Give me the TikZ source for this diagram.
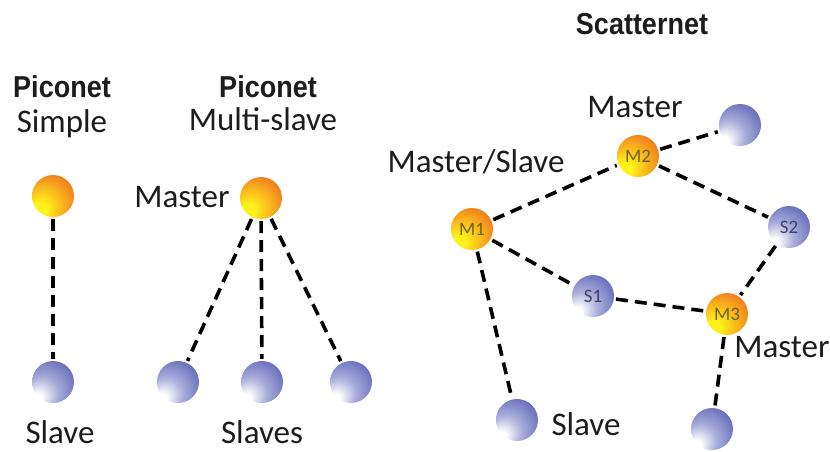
\documentclass[tikz,border=0pt]{standalone}
\usepackage{graphicx}
\usepackage{fontspec}
\setmainfont{Carlito}
\newfontfamily\titlefont{Liberation Sans}

% ball colours
\definecolor{mYellow}{HTML}{FFF21A}
\definecolor{mOrange}{HTML}{F59A1E}
\definecolor{mRed}{HTML}{E4481C}
\definecolor{mText}{HTML}{6E6420}
\definecolor{sWhite}{HTML}{FFFFFF}
\definecolor{sLight}{HTML}{A9ADDA}
\definecolor{sBlue}{HTML}{6268B8}
\definecolor{sDark}{HTML}{474C98}
\definecolor{sText}{HTML}{3E4268}
\definecolor{labelInk}{HTML}{1C1C1C}

% off-centre radial shadings: light at lower left, deep at upper right
\pgfdeclareradialshading{masterball}{\pgfpoint{-18bp}{-18bp}}{%
  color(0bp)=(mYellow); color(8bp)=(mYellow); color(30bp)=(mOrange);
  color(50bp)=(mRed); color(70bp)=(mRed)}
\pgfdeclareradialshading{slaveball}{\pgfpoint{-20bp}{-20bp}}{%
  color(0bp)=(sWhite); color(5bp)=(sWhite); color(20bp)=(sLight);
  color(40bp)=(sBlue); color(56bp)=(sDark); color(70bp)=(sDark)}

% tall bold heading text
\newcommand{\headtext}[1]{\scalebox{1}[1.12]{#1}}

\begin{document}
\begin{tikzpicture}[x=1pt,y=-1pt,
  ball/.style={circle,minimum size=42pt,inner sep=0pt,
    font=\fontsize{19}{19}\selectfont},
  master/.style={ball,shading=masterball,text=mText},
  slave/.style={ball,shading=slaveball,text=sText},
  link/.style={line width=3.6pt,dash pattern=on 12pt off 7pt,black,
    shorten <=2pt,shorten >=2pt},
  lbl/.style={inner sep=0pt,anchor=base,text=labelInk,
    font=\fontsize{33}{36}\selectfont},
  title/.style={inner sep=0pt,anchor=base,text=labelInk,
    font=\titlefont\bfseries\fontsize{27}{28}\selectfont}]

\useasboundingbox (0,0) rectangle (830,451);

% ---- simple piconet ----
\node[title] (t1) at (62,97) {\headtext{Piconet}};
\node[lbl] (t1b) at (62,132) {Simple};
\node[master] (pm) at (53,196) {};
\node[slave] (ps) at (53,382) {};
\node[lbl] (psl) at (60,443) {Slave};
\draw[link] (pm) -- (ps);

% ---- multi-slave piconet ----
\node[title] (t2) at (268,97) {\headtext{Piconet}};
\node[lbl] (t2b) at (263,130) {Multi-slave};
\node[master] (qm) at (261,198) {};
\node[lbl] (qml) at (182,207) {Master};
\node[slave] (qs1) at (178,382) {};
\node[slave] (qs2) at (262,382) {};
\node[slave] (qs3) at (351,382) {};
\node[lbl] (qsl) at (262,443) {Slaves};
\draw[link] (qm) -- (qs1);
\draw[link] (qm) -- (qs2);
\draw[link] (qm) -- (qs3);

% ---- scatternet ----
\node[title] (t3) at (642,34) {\headtext{Scatternet}};
\node[master] (m1) at (472,229) {M1};
\node[master] (m2) at (638,156) {M2};
\node[master] (m3) at (727,314) {M3};
\node[slave] (s1) at (593,296) {S1};
\node[slave] (s2) at (789,227) {S2};
\node[slave] (s3) at (740,125) {};
\node[slave] (s4) at (517,420) {};
\node[slave] (s5) at (712,429) {};
\node[lbl] (m2l) at (635,117) {Master};
\node[lbl] (m1l) at (476,172) {Master/Slave};
\node[lbl] (m3l) at (782,357) {Master};
\node[lbl] (s4l) at (586,435) {Slave};

\draw[link] (m1) -- (m2);
\draw[link] (m2) -- (s3);
\draw[link] (m2) -- (s2);
\draw[link] (s2) -- (m3);
\draw[link] (m1) -- (s1);
\draw[link] (s1) -- (m3);
\draw[link] (m1) -- (s4);
\draw[link] (m3) -- (s5);
\end{tikzpicture}
\end{document}
